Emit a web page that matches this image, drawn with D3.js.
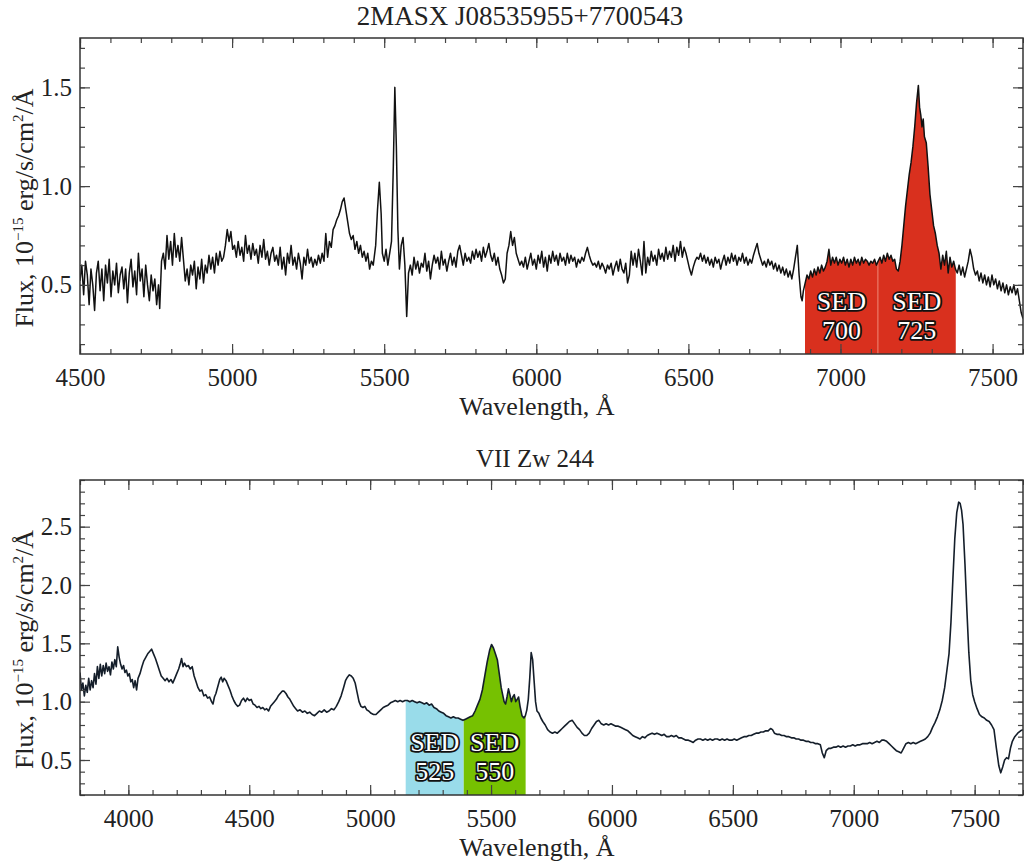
<!DOCTYPE html>
<html>
<head>
<meta charset="utf-8">
<script src="https://cdnjs.cloudflare.com/ajax/libs/d3/7.8.5/d3.min.js"></script>
<style>
body { margin: 0; background: #fff; }
text { font-family: "Liberation Serif", "Times New Roman", serif; fill: #222; }
.tick line { stroke: #444; stroke-width: 1.2; }
.sed { fill: #fff; stroke: #111; stroke-width: 3.6; paint-order: stroke; stroke-linejoin: round; font-size: 26px; }
</style>
</head>
<body>
<svg id="chart" width="1024" height="862"></svg>
<script>
// panel titles
var titles = ["2MASX J08535955+7700543", "VII Zw 244"];

// axis ticks
var xMajorTop = [4500, 5000, 5500, 6000, 6500, 7000, 7500];
var xMajorBot = [4000, 4500, 5000, 5500, 6000, 6500, 7000, 7500];
var yMajorTop = [0.5, 1.0, 1.5];
var yMajorBot = [0.5, 1.0, 1.5, 2.0, 2.5];

// SED filter bands [from, to, name, colour]
var bandsTop = [[6883, 7123, "700", "#d9301e"], [7123, 7379, "725", "#d9301e"]];
var bandsBot = [[5147, 5387, "525", "#99dcea"], [5387, 5643, "550", "#76c101"]];

// 2MASX J08535955+7700543 spectrum [wavelength, flux]
var specTop = [
[4500,0.52],[4506,0.60],[4512,0.45],[4518,0.62],[4524,0.55],[4530,0.40],[4536,0.58],[4542,0.50],[4548,0.37],[4554,0.56],
[4560,0.62],[4566,0.47],[4572,0.58],[4578,0.42],[4584,0.60],[4590,0.51],[4596,0.63],[4602,0.44],[4608,0.57],[4614,0.50],
[4620,0.61],[4626,0.46],[4632,0.55],[4638,0.59],[4644,0.48],[4650,0.58],[4656,0.41],[4662,0.56],[4668,0.63],[4674,0.49],
[4680,0.57],[4686,0.45],[4692,0.66],[4698,0.52],[4704,0.58],[4710,0.44],[4716,0.60],[4722,0.50],[4728,0.42],[4734,0.55],
[4740,0.47],[4746,0.53],[4752,0.40],[4758,0.50],[4762,0.38],[4768,0.62],[4774,0.66],[4780,0.58],[4786,0.75],[4792,0.63],
[4798,0.72],[4804,0.60],[4810,0.76],[4816,0.64],[4822,0.70],[4828,0.62],[4834,0.74],[4840,0.63],[4846,0.52],[4852,0.58],
[4858,0.50],[4864,0.60],[4870,0.55],[4876,0.62],[4882,0.48],[4888,0.59],[4894,0.53],[4900,0.63],[4906,0.51],[4912,0.60],
[4918,0.56],[4924,0.65],[4930,0.58],[4936,0.64],[4942,0.56],[4948,0.66],[4954,0.60],[4960,0.67],[4966,0.62],[4972,0.64],
[4978,0.70],[4984,0.78],[4990,0.72],[4996,0.77],[5002,0.68],[5008,0.70],[5014,0.64],[5020,0.72],[5026,0.65],[5032,0.69],
[5038,0.62],[5044,0.75],[5050,0.66],[5056,0.70],[5062,0.63],[5068,0.71],[5074,0.65],[5080,0.68],[5086,0.61],[5092,0.70],
[5098,0.64],[5104,0.73],[5110,0.63],[5116,0.67],[5122,0.60],[5128,0.66],[5134,0.69],[5140,0.62],[5146,0.65],[5152,0.60],
[5158,0.69],[5164,0.58],[5170,0.64],[5176,0.55],[5182,0.66],[5188,0.61],[5194,0.70],[5200,0.60],[5206,0.64],[5212,0.58],
[5218,0.66],[5224,0.61],[5230,0.53],[5236,0.64],[5242,0.60],[5248,0.68],[5254,0.61],[5260,0.64],[5266,0.59],[5272,0.63],
[5278,0.60],[5284,0.65],[5290,0.61],[5296,0.66],[5302,0.62],[5308,0.76],[5314,0.64],[5320,0.72],[5326,0.69],[5332,0.78],
[5338,0.80],[5344,0.83],[5350,0.85],[5356,0.88],[5362,0.92],[5368,0.94],[5374,0.88],[5380,0.82],[5386,0.76],[5392,0.73],
[5398,0.75],[5404,0.68],[5410,0.72],[5416,0.66],[5422,0.70],[5428,0.64],[5434,0.67],[5440,0.62],[5446,0.66],[5452,0.58],
[5458,0.62],[5464,0.60],[5472,0.70],[5478,0.88],[5484,1.02],[5490,0.86],[5494,0.66],[5500,0.62],[5506,0.68],[5512,0.60],
[5518,0.66],[5524,0.72],[5530,1.10],[5535,1.50],[5540,1.20],[5545,0.78],[5550,0.58],[5556,0.70],[5562,0.74],[5568,0.60],
[5574,0.34],[5580,0.56],[5586,0.60],[5592,0.55],[5598,0.64],[5604,0.58],[5610,0.62],[5616,0.56],[5622,0.61],[5628,0.59],
[5634,0.66],[5640,0.57],[5646,0.62],[5652,0.53],[5658,0.60],[5664,0.65],[5670,0.61],[5676,0.64],[5682,0.58],[5688,0.67],
[5694,0.60],[5700,0.63],[5706,0.57],[5712,0.62],[5718,0.66],[5724,0.60],[5730,0.64],[5736,0.59],[5742,0.67],[5748,0.70],
[5754,0.65],[5760,0.60],[5766,0.66],[5772,0.62],[5778,0.64],[5784,0.61],[5790,0.67],[5796,0.63],[5802,0.68],[5808,0.64],
[5814,0.67],[5820,0.62],[5826,0.69],[5832,0.64],[5838,0.67],[5844,0.71],[5850,0.65],[5856,0.62],[5862,0.66],[5868,0.60],
[5874,0.64],[5880,0.58],[5886,0.55],[5892,0.51],[5898,0.53],[5904,0.66],[5910,0.70],[5916,0.77],[5922,0.70],[5928,0.74],
[5934,0.66],[5940,0.63],[5946,0.60],[5952,0.62],[5958,0.59],[5964,0.64],[5970,0.58],[5976,0.62],[5982,0.66],[5988,0.60],
[5994,0.63],[6000,0.58],[6006,0.65],[6012,0.61],[6018,0.67],[6024,0.59],[6030,0.64],[6036,0.57],[6042,0.65],[6048,0.61],
[6054,0.67],[6060,0.62],[6066,0.65],[6072,0.60],[6078,0.66],[6084,0.62],[6090,0.64],[6096,0.60],[6102,0.66],[6108,0.61],
[6114,0.65],[6120,0.62],[6126,0.64],[6132,0.59],[6138,0.63],[6144,0.61],[6150,0.64],[6156,0.62],[6162,0.66],[6168,0.69],
[6174,0.65],[6180,0.62],[6186,0.60],[6192,0.61],[6198,0.59],[6204,0.62],[6210,0.58],[6216,0.61],[6222,0.59],[6228,0.56],
[6234,0.60],[6240,0.58],[6246,0.61],[6252,0.55],[6258,0.59],[6264,0.62],[6270,0.57],[6276,0.63],[6282,0.58],[6288,0.56],
[6294,0.61],[6300,0.51],[6306,0.55],[6312,0.67],[6318,0.60],[6324,0.66],[6330,0.59],[6336,0.68],[6342,0.62],[6348,0.55],
[6354,0.72],[6360,0.56],[6366,0.64],[6372,0.60],[6378,0.67],[6384,0.62],[6390,0.65],[6396,0.60],[6402,0.68],[6408,0.63],
[6414,0.66],[6420,0.62],[6426,0.69],[6432,0.63],[6438,0.67],[6444,0.64],[6450,0.70],[6456,0.62],[6462,0.69],[6468,0.65],
[6474,0.72],[6480,0.64],[6486,0.69],[6492,0.66],[6498,0.62],[6504,0.58],[6510,0.55],[6516,0.59],[6522,0.62],[6528,0.64],
[6534,0.63],[6540,0.66],[6546,0.62],[6552,0.65],[6558,0.61],[6564,0.64],[6570,0.60],[6576,0.63],[6582,0.59],[6588,0.64],
[6594,0.61],[6600,0.63],[6606,0.58],[6612,0.62],[6618,0.65],[6624,0.60],[6630,0.64],[6636,0.61],[6642,0.66],[6648,0.62],
[6654,0.65],[6660,0.60],[6666,0.64],[6672,0.62],[6678,0.66],[6684,0.61],[6690,0.64],[6696,0.60],[6702,0.63],[6708,0.61],
[6714,0.65],[6720,0.68],[6726,0.71],[6732,0.66],[6738,0.63],[6744,0.60],[6750,0.62],[6756,0.59],[6762,0.63],[6768,0.60],
[6774,0.62],[6780,0.58],[6786,0.61],[6792,0.57],[6798,0.60],[6804,0.56],[6810,0.59],[6816,0.55],[6822,0.58],[6828,0.54],
[6834,0.57],[6840,0.53],[6846,0.58],[6852,0.64],[6858,0.70],[6864,0.55],[6870,0.44],[6874,0.42],[6878,0.47],[6884,0.51],
[6890,0.55],[6896,0.53],[6902,0.57],[6908,0.54],[6914,0.58],[6920,0.55],[6926,0.59],[6932,0.56],[6938,0.60],[6944,0.57],
[6950,0.59],[6956,0.62],[6962,0.68],[6968,0.60],[6974,0.64],[6980,0.61],[6986,0.64],[6992,0.60],[6998,0.63],[7004,0.61],
[7010,0.64],[7016,0.60],[7022,0.63],[7028,0.59],[7034,0.63],[7040,0.60],[7046,0.64],[7052,0.61],[7058,0.63],[7064,0.60],
[7070,0.64],[7076,0.61],[7082,0.63],[7088,0.62],[7094,0.60],[7100,0.62],[7106,0.61],[7112,0.63],[7118,0.60],[7124,0.62],
[7130,0.64],[7136,0.61],[7142,0.65],[7148,0.62],[7154,0.66],[7160,0.63],[7166,0.65],[7172,0.62],[7178,0.63],[7184,0.58],
[7190,0.57],[7196,0.62],[7202,0.70],[7208,0.80],[7214,0.90],[7220,0.98],[7226,1.06],[7232,1.12],[7238,1.20],[7244,1.30],
[7250,1.42],[7256,1.51],[7260,1.40],[7264,1.36],[7268,1.30],[7272,1.34],[7276,1.25],[7282,1.22],[7288,1.10],[7294,0.96],
[7300,0.88],[7306,0.80],[7312,0.76],[7318,0.70],[7324,0.66],[7330,0.58],[7336,0.65],[7342,0.60],[7348,0.67],[7354,0.56],
[7360,0.64],[7366,0.59],[7372,0.62],[7378,0.58],[7384,0.56],[7390,0.60],[7396,0.55],[7402,0.59],[7408,0.54],[7414,0.58],
[7420,0.62],[7426,0.68],[7432,0.64],[7438,0.58],[7444,0.55],[7450,0.57],[7456,0.52],[7462,0.56],[7468,0.51],[7474,0.55],
[7480,0.50],[7486,0.54],[7492,0.49],[7498,0.55],[7504,0.50],[7510,0.53],[7516,0.48],[7522,0.52],[7528,0.47],[7534,0.51],
[7540,0.46],[7546,0.50],[7552,0.45],[7558,0.49],[7564,0.46],[7570,0.50],[7576,0.45],[7582,0.48],[7588,0.42],[7594,0.36],
[7600,0.33]
];

// VII Zw 244 spectrum [wavelength, flux]
var specBot = [
[3800,1.25],[3806,1.10],[3812,1.16],[3818,1.05],[3824,1.14],[3830,1.08],[3836,1.20],[3842,1.10],[3848,1.18],[3854,1.12],
[3860,1.24],[3866,1.15],[3872,1.30],[3878,1.20],[3884,1.32],[3890,1.22],[3896,1.31],[3902,1.24],[3908,1.33],[3914,1.26],
[3920,1.30],[3926,1.23],[3932,1.34],[3938,1.28],[3944,1.36],[3950,1.30],[3956,1.47],[3962,1.38],[3968,1.32],[3974,1.28],
[3980,1.31],[3986,1.25],[3992,1.27],[3998,1.22],[4004,1.24],[4010,1.17],[4016,1.19],[4022,1.12],[4028,1.18],[4034,1.10],
[4040,1.20],[4048,1.24],[4056,1.30],[4064,1.35],[4072,1.38],[4080,1.41],[4088,1.43],[4096,1.45],[4104,1.41],[4112,1.37],
[4120,1.32],[4128,1.27],[4136,1.22],[4144,1.20],[4152,1.18],[4160,1.20],[4168,1.17],[4176,1.19],[4184,1.16],[4192,1.20],
[4200,1.24],[4208,1.28],[4214,1.32],[4220,1.37],[4226,1.30],[4232,1.33],[4240,1.30],[4248,1.31],[4256,1.28],[4264,1.30],
[4272,1.22],[4280,1.17],[4288,1.12],[4296,1.09],[4304,1.10],[4312,1.05],[4320,1.06],[4328,1.03],[4336,1.04],[4344,1.00],
[4350,0.98],[4356,1.04],[4362,1.07],[4370,1.13],[4378,1.19],[4384,1.21],[4390,1.17],[4396,1.20],[4404,1.18],[4412,1.14],
[4420,1.10],[4428,1.05],[4436,1.01],[4444,0.98],[4452,0.96],[4460,0.97],[4468,1.01],[4476,1.03],[4484,1.00],[4492,1.03],
[4500,1.01],[4508,1.02],[4516,0.98],[4524,0.97],[4532,0.95],[4540,0.96],[4548,0.94],[4556,0.95],[4564,0.93],[4572,0.94],
[4580,0.92],[4588,0.96],[4596,0.98],[4604,1.00],[4612,1.02],[4620,1.05],[4628,1.07],[4636,1.09],[4644,1.09],[4652,1.07],
[4660,1.04],[4668,1.02],[4676,0.99],[4684,0.96],[4692,0.94],[4700,0.92],[4710,0.93],[4720,0.91],[4730,0.92],[4740,0.90],
[4750,0.91],[4760,0.89],[4770,0.88],[4780,0.90],[4790,0.92],[4800,0.91],[4810,0.93],[4820,0.91],[4830,0.92],[4840,0.94],
[4850,0.93],[4860,0.96],[4870,1.00],[4880,1.05],[4890,1.12],[4898,1.18],[4906,1.21],[4914,1.23],[4922,1.22],[4930,1.20],
[4938,1.16],[4946,1.08],[4954,1.00],[4962,0.96],[4970,0.95],[4978,0.96],[4986,0.93],[4994,0.92],[5004,0.90],[5014,0.89],
[5024,0.89],[5034,0.91],[5044,0.93],[5054,0.95],[5064,0.96],[5074,0.97],[5084,0.99],[5094,1.00],[5104,1.01],[5114,1.00],
[5124,1.01],[5134,1.00],[5144,1.01],[5154,1.01],[5164,1.00],[5174,1.01],[5184,1.00],[5194,0.99],[5204,1.00],[5214,0.99],
[5224,0.98],[5234,0.99],[5244,0.97],[5254,0.98],[5264,0.95],[5274,0.94],[5284,0.92],[5294,0.91],[5304,0.90],[5314,0.88],
[5324,0.87],[5334,0.86],[5344,0.87],[5354,0.86],[5364,0.86],[5374,0.85],[5384,0.84],[5394,0.85],[5404,0.86],[5414,0.87],
[5424,0.88],[5434,0.92],[5444,0.97],[5454,1.02],[5464,1.10],[5474,1.22],[5484,1.34],[5494,1.44],[5502,1.49],[5510,1.46],
[5518,1.41],[5526,1.36],[5534,1.24],[5542,1.12],[5548,1.06],[5554,1.00],[5560,0.98],[5566,1.04],[5572,1.11],[5578,1.06],
[5584,1.00],[5590,1.04],[5596,1.06],[5602,1.00],[5608,1.02],[5614,1.04],[5620,0.96],[5628,0.88],[5636,0.86],[5642,0.88],
[5648,0.93],[5654,1.02],[5660,1.20],[5666,1.42],[5672,1.36],[5678,1.18],[5684,1.00],[5690,0.92],[5698,0.90],[5706,0.86],
[5714,0.83],[5724,0.80],[5734,0.76],[5744,0.74],[5754,0.73],[5764,0.74],[5774,0.73],[5784,0.75],[5794,0.77],[5804,0.79],
[5814,0.81],[5824,0.83],[5836,0.84],[5846,0.81],[5856,0.78],[5866,0.76],[5876,0.73],[5886,0.71],[5896,0.71],[5906,0.73],
[5916,0.77],[5926,0.80],[5936,0.83],[5946,0.84],[5956,0.81],[5966,0.80],[5976,0.81],[5986,0.80],[5996,0.81],[6006,0.80],
[6016,0.79],[6026,0.79],[6036,0.78],[6046,0.77],[6056,0.76],[6066,0.75],[6076,0.73],[6086,0.71],[6096,0.70],[6106,0.69],
[6116,0.68],[6126,0.70],[6136,0.69],[6146,0.71],[6156,0.72],[6166,0.73],[6176,0.72],[6186,0.73],[6196,0.72],[6206,0.71],
[6216,0.72],[6226,0.70],[6236,0.70],[6246,0.71],[6256,0.70],[6266,0.71],[6276,0.69],[6286,0.69],[6296,0.68],[6306,0.67],
[6316,0.67],[6326,0.66],[6336,0.65],[6346,0.67],[6356,0.68],[6366,0.68],[6376,0.67],[6386,0.68],[6396,0.67],[6406,0.68],
[6416,0.67],[6426,0.68],[6436,0.68],[6446,0.67],[6456,0.68],[6466,0.67],[6476,0.68],[6486,0.67],[6496,0.67],[6506,0.68],
[6516,0.67],[6526,0.68],[6536,0.69],[6546,0.70],[6556,0.70],[6566,0.71],[6576,0.71],[6586,0.72],[6596,0.73],[6606,0.73],
[6616,0.74],[6626,0.74],[6636,0.75],[6646,0.75],[6656,0.77],[6664,0.76],[6672,0.73],[6682,0.72],[6692,0.72],[6702,0.71],
[6712,0.71],[6722,0.70],[6732,0.70],[6742,0.69],[6752,0.69],[6762,0.68],[6772,0.68],[6782,0.67],[6792,0.67],[6802,0.66],
[6812,0.66],[6822,0.65],[6832,0.65],[6842,0.64],[6852,0.64],[6862,0.63],[6870,0.56],[6878,0.52],[6886,0.58],[6896,0.60],
[6906,0.60],[6916,0.61],[6926,0.61],[6936,0.62],[6946,0.61],[6956,0.62],[6966,0.61],[6976,0.62],[6986,0.62],[6996,0.63],
[7006,0.62],[7016,0.63],[7026,0.63],[7036,0.64],[7046,0.64],[7056,0.64],[7066,0.65],[7076,0.64],[7086,0.65],[7096,0.66],
[7106,0.65],[7116,0.67],[7126,0.67],[7136,0.66],[7146,0.64],[7156,0.62],[7166,0.60],[7176,0.58],[7186,0.57],[7196,0.56],
[7206,0.60],[7216,0.64],[7226,0.65],[7236,0.64],[7246,0.65],[7256,0.64],[7266,0.65],[7276,0.66],[7286,0.67],[7296,0.68],
[7306,0.70],[7316,0.73],[7326,0.78],[7336,0.82],[7346,0.87],[7356,0.93],[7366,1.01],[7376,1.12],[7386,1.28],[7394,1.41],
[7402,1.68],[7410,2.05],[7418,2.40],[7426,2.62],[7434,2.71],[7440,2.70],[7446,2.64],[7452,2.52],[7460,2.18],[7468,1.78],
[7476,1.42],[7484,1.18],[7492,1.06],[7500,1.00],[7510,0.94],[7520,0.89],[7530,0.87],[7540,0.86],[7550,0.84],[7560,0.83],
[7570,0.80],[7580,0.76],[7590,0.60],[7600,0.45],[7608,0.39],[7616,0.44],[7624,0.50],[7632,0.52],[7640,0.51],[7648,0.60],
[7656,0.66],[7666,0.70],[7678,0.73],[7690,0.75],[7700,0.76]
];

var svg = d3.select("#chart");
var left = 80, right = 1023;

var panels = [
  {title: titles[0], titleX: 520, titleSize: 27, spec: specTop, xd: [4500, 7600], yd: [0.15, 1.75], top: 38, bottom: 354,
   xMajor: xMajorTop, yMajor: yMajorTop, bands: bandsTop, line: "#111", lw: 1.5, divider: true},
  {title: titles[1], titleX: 535, titleSize: 25, spec: specBot, xd: [3800, 7700], yd: [0.2, 2.9], top: 480, bottom: 795,
   xMajor: xMajorBot, yMajor: yMajorBot, bands: bandsBot, line: "#141e2a", lw: 1.6, divider: false}
];

panels.forEach(drawPanel);

function drawPanel(p, k) {
  var x = d3.scaleLinear().domain(p.xd).range([left, right]);
  var y = d3.scaleLinear().domain(p.yd).range([p.bottom, p.top]);
  var g = svg.append("g");

  var xMinor = d3.range(Math.ceil(p.xd[0] / 100), Math.floor(p.xd[1] / 100) + 1).map(function(d) { return d * 100; });
  var yMinor = d3.range(Math.ceil(p.yd[0] * 10), Math.floor(p.yd[1] * 10) + 1).map(function(d) { return d / 10; });

  g.append("clipPath").attr("id", "plot" + k)
    .append("rect").attr("x", left).attr("y", p.top).attr("width", right - left).attr("height", p.bottom - p.top);

  // filled SED bands under the spectrum
  var area = d3.area()
    .x(function(d) { return x(d[0]); })
    .y0(p.bottom)
    .y1(function(d) { return y(d[1]); });

  p.bands.forEach(function(b, i) {
    g.append("clipPath").attr("id", "band" + k + i)
      .append("rect").attr("x", x(b[0])).attr("y", p.top)
      .attr("width", x(b[1]) - x(b[0])).attr("height", p.bottom - p.top);
    g.append("path").datum(p.spec)
      .attr("clip-path", "url(#band" + k + i + ")")
      .attr("fill", b[3])
      .attr("d", area);
  });

  if (p.divider) {
    g.append("line")
      .attr("x1", x(p.bands[1][0])).attr("x2", x(p.bands[1][0]))
      .attr("y1", y(0.62)).attr("y2", p.bottom)
      .attr("stroke", "#ee8a78").attr("stroke-width", 1);
  }

  var line = d3.line()
    .x(function(d) { return x(d[0]); })
    .y(function(d) { return y(d[1]); });

  g.append("path").datum(p.spec)
    .attr("clip-path", "url(#plot" + k + ")")
    .attr("fill", "none")
    .attr("stroke", p.line)
    .attr("stroke-width", p.lw)
    .attr("stroke-linejoin", "round")
    .attr("d", line);

  // SED labels
  p.bands.forEach(function(b) {
    var cx = (x(b[0]) + x(b[1])) / 2;
    g.append("text").attr("class", "sed").attr("x", cx).attr("y", p.bottom - 44)
      .attr("text-anchor", "middle").text("SED");
    g.append("text").attr("class", "sed").attr("x", cx).attr("y", p.bottom - 15)
      .attr("text-anchor", "middle").text(b[2]);
  });

  // axes with inward ticks on all four sides
  function axis(gen, vals, size, tx, ty, pad) {
    var a = gen.tickValues(vals).tickSize(-size);
    if (pad) a.tickPadding(pad); else a.tickFormat("");
    var ga = g.append("g").attr("transform", "translate(" + tx + "," + ty + ")").call(a);
    ga.select(".domain").remove();
    ga.selectAll("text").style("font-family", '"Liberation Serif", serif').style("font-size", "25px").attr("fill", "#222");
    return ga;
  }
  axis(d3.axisBottom(x), xMinor, 5, 0, p.bottom);
  axis(d3.axisBottom(x).tickFormat(d3.format("d")), p.xMajor, 10, 0, p.bottom, 14);
  axis(d3.axisTop(x), xMinor, 5, 0, p.top);
  axis(d3.axisTop(x), p.xMajor, 10, 0, p.top);
  axis(d3.axisLeft(y), yMinor, 5, left, 0);
  axis(d3.axisLeft(y).tickFormat(d3.format(".1f")), p.yMajor, 10, left, 0, 8);
  axis(d3.axisRight(y), yMinor, 5, right, 0);
  axis(d3.axisRight(y), p.yMajor, 10, right, 0);

  g.append("rect")
    .attr("x", left).attr("y", p.top)
    .attr("width", right - left).attr("height", p.bottom - p.top)
    .attr("fill", "none").attr("stroke", "#333").attr("stroke-width", 1.5);

  // titles
  g.append("text").attr("x", p.titleX).attr("y", p.top - 13)
    .attr("text-anchor", "middle").style("font-size", p.titleSize + "px").text(p.title);

  g.append("text").attr("x", 537).attr("y", p.bottom + 61)
    .attr("text-anchor", "middle").style("font-size", "26px").text("Wavelength, Å");

  var yl = g.append("text")
    .attr("transform", "translate(33," + ((p.top + p.bottom) / 2 + 12) + ") rotate(-90)")
    .attr("text-anchor", "middle").style("font-size", "26px");
  yl.append("tspan").text("Flux, 10");
  yl.append("tspan").attr("dy", -10).style("font-size", "15px").text("−15");
  yl.append("tspan").attr("dy", 10).text(" erg/s/cm");
  yl.append("tspan").attr("dy", -10).style("font-size", "15px").text("2");
  yl.append("tspan").attr("dy", 10).text("/Å");
}
</script>
</body>
</html>
